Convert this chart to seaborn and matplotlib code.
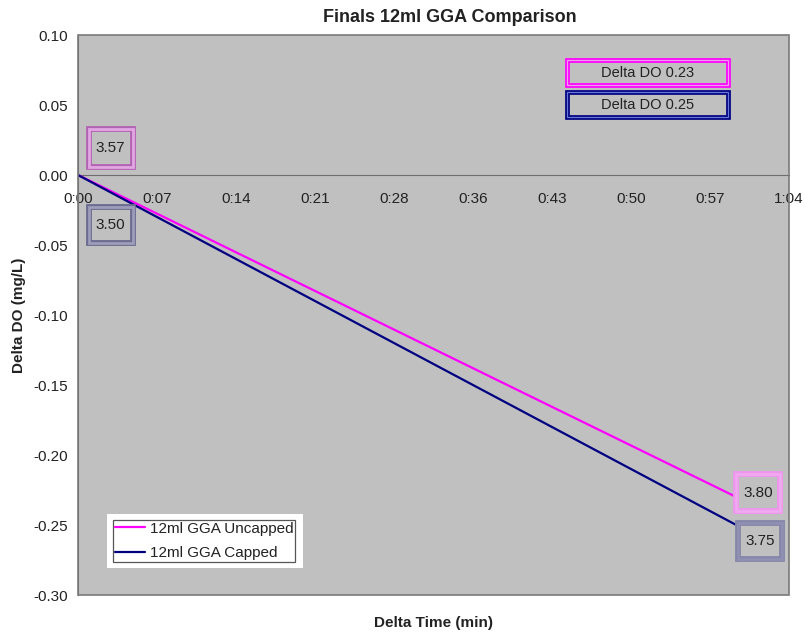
import matplotlib
matplotlib.use("Agg")
import matplotlib.pyplot as plt
from matplotlib.patches import Rectangle
from matplotlib.transforms import ScaledTranslation
import pandas as pd
import seaborn as sns

# Dissolved oxygen readings (mg/L) at the start and end of the run
time_min = [0, 60]
uncapped_do = [3.57, 3.80]
capped_do = [3.50, 3.75]
series_names = ["12ml GGA Uncapped", "12ml GGA Capped"]
series_colors = ["#ff00ff", "#000080"]

# Time axis (minutes) shown in h:mm
x_tick_minutes = [0, 7.2, 14.4, 21.6, 28.8, 36.0, 43.2, 50.4, 57.6, 64.8]
x_tick_labels = ["0:00", "0:07", "0:14", "0:21", "0:28", "0:36",
                 "0:43", "0:50", "0:57", "1:04"]
y_ticks = [0.10, 0.05, 0.00, -0.05, -0.10, -0.15, -0.20, -0.25, -0.30]

# Delta DO relative to the first reading (plotted downward)
uncapped_delta = [round(uncapped_do[0] - v, 3) for v in uncapped_do]
capped_delta = [round(capped_do[0] - v, 3) for v in capped_do]
total_uncapped = uncapped_do[-1] - uncapped_do[0]
total_capped = capped_do[-1] - capped_do[0]

df = pd.DataFrame({
    "time": time_min * 2,
    "delta": uncapped_delta + capped_delta,
    "series": [series_names[0]] * 2 + [series_names[1]] * 2,
})

sns.set_style("white")
plt.rcParams["font.family"] = ["Liberation Sans", "DejaVu Sans"]

fig = plt.figure(figsize=(8.05, 6.33), dpi=100)
ax = fig.add_axes([0.0969, 0.06, 0.8832, 0.8847])
ax.set_facecolor("#c0c0c0")

sns.lineplot(data=df, x="time", y="delta", hue="series",
             palette=dict(zip(series_names, series_colors)),
             linewidth=1.6, ax=ax, legend=False, zorder=3)

ax.set_xlim(0, 64.8)
ax.set_ylim(-0.30, 0.10)
ax.set_yticks(y_ticks)
ax.set_yticklabels([f"{v:.2f}" for v in y_ticks])
ax.set_xticks(x_tick_minutes)
ax.set_xticklabels(x_tick_labels)
ax.set_xlabel("")
ax.set_ylabel("")

# x axis runs through zero, plot area keeps its own border
for side in ("top", "right"):
    ax.spines[side].set_visible(False)
ax.spines["bottom"].set_position(("data", 0))
ax.spines["bottom"].set_color("#6e6e6e")
ax.spines["left"].set_color("#6a6a6a")
ax.add_patch(Rectangle((0, 0), 1, 1, transform=ax.transAxes, fill=False,
                       edgecolor="#7a7a7a", linewidth=1.2, zorder=5,
                       clip_on=False))

ax.tick_params(axis="x", direction="out", length=4, width=1, pad=8,
               labelsize=11, colors="#6e6e6e", labelcolor="#222222")
ax.tick_params(axis="y", direction="out", length=4.5, width=1, pad=3,
               labelsize=11, colors="#6a6a6a", labelcolor="#222222")

fig.text(0.559, 0.973, "Finals 12ml GGA Comparison", ha="center",
         va="center", fontsize=13, fontweight="bold", color="#222222")
ax.text(0.5, -0.05, "Delta Time (min)", transform=ax.transAxes,
        ha="center", va="center", fontsize=11, fontweight="bold",
        color="#222222")
ax.text(-0.083, 0.5, "Delta DO (mg/L)", transform=ax.transAxes,
        rotation=90, ha="center", va="center", fontsize=11,
        fontweight="bold", color="#222222")


def framed_label(text, xy, offset_px, size_px, dark, light):
    """Value label in a double-line frame, placed relative to a data point."""
    trans = fig.dpi_scale_trans + ScaledTranslation(xy[0], xy[1],
                                                    ax.transData)
    dpi = fig.dpi
    cx, cy = offset_px[0] / dpi, offset_px[1] / dpi
    w, h = size_px[0] / dpi, size_px[1] / dpi
    for color, lw, fill in ((dark, 4.2, True), (light, 2.0, False)):
        ax.add_patch(Rectangle((cx - w / 2, cy - h / 2), w, h,
                               transform=trans, facecolor="#c0c0c0",
                               fill=fill, edgecolor=color, linewidth=lw,
                               zorder=6, clip_on=False))
    ax.text(cx, cy, text, transform=trans, ha="center", va="center",
            fontsize=11, color="#222222", zorder=7)


framed_label(f"{uncapped_do[0]:.2f}", (time_min[0], uncapped_delta[0]),
             (32.5, 27), (44, 38), "#b264b2", "#e2a6e2")
framed_label(f"{capped_do[0]:.2f}", (time_min[0], capped_delta[0]),
             (32.5, -49.5), (44, 36), "#6c6c92", "#9d9dba")
framed_label(f"{uncapped_do[-1]:.2f}", (time_min[-1], uncapped_delta[-1]),
             (22, 4.5), (44, 37), "#ee96ee", "#f0a8f0")
framed_label(f"{capped_do[-1]:.2f}", (time_min[-1], capped_delta[-1]),
             (24, -16), (44, 36), "#8686aa", "#9090b2")


def delta_box(text, y0, h, dark, light):
    """Fixed-width summary box in the upper right."""
    x0, w = 0.688, 0.226
    ax.add_patch(Rectangle((x0, y0), w, h, transform=ax.transAxes,
                           facecolor="#c0c0c0", edgecolor=dark,
                           linewidth=3.4, zorder=6))
    ax.add_patch(Rectangle((x0, y0), w, h, transform=ax.transAxes,
                           fill=False, edgecolor=light, linewidth=0.9,
                           zorder=6))
    ax.text(x0 + w / 2, y0 + h / 2, text, transform=ax.transAxes,
            ha="center", va="center", fontsize=10.5, color="#222222",
            zorder=7)


delta_box(f"Delta DO {total_uncapped:.2f}", 0.911, 0.044, "#ff00ff", "#f0a0f0")
delta_box(f"Delta DO {total_capped:.2f}", 0.853, 0.045, "#000080", "#6a78d8")

# Legend on a white panel
ax.add_patch(Rectangle((0.0408, 0.0482), 0.2757, 0.0964,
                       transform=ax.transAxes, facecolor="white",
                       edgecolor="none", zorder=6))
handles = [plt.Line2D([], [], color=c, linewidth=1.6) for c in series_colors]
leg = ax.legend(handles, series_names, loc="lower left",
                bbox_to_anchor=(0.0492, 0.059), fontsize=11,
                frameon=True, fancybox=False, edgecolor="#555555",
                facecolor="white", framealpha=1, borderpad=0.1,
                handlelength=2.0, handletextpad=0.3, labelspacing=0.7,
                borderaxespad=0)
leg.get_frame().set_linewidth(0.9)
leg.set_zorder(7)
for t in leg.get_texts():
    t.set_color("#222222")

fig.savefig("out.png", dpi=100, facecolor="white")
